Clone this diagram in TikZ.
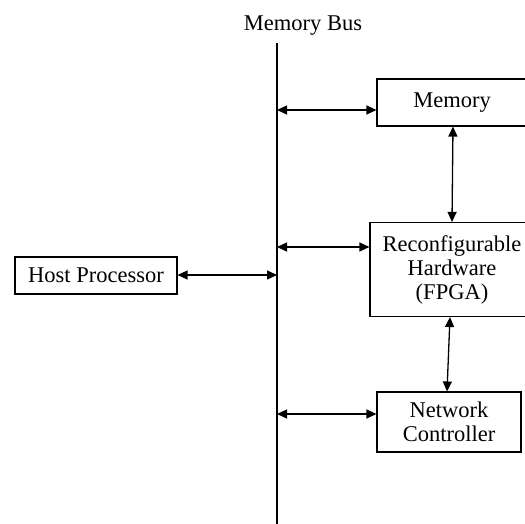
\documentclass[tikz,border=0pt]{standalone}
\usepackage{fontspec}
\setmainfont{Liberation Serif}
\usetikzlibrary{arrows.meta}
\tikzset{
  blk/.style={draw, line width=1.1pt, align=center, inner sep=0pt,
    font=\fontsize{22.5}{24}\selectfont},
  link/.style={line width=1.3pt, {Triangle[length=10pt,width=9pt]}-{Triangle[length=10pt,width=9pt]}},
  busline/.style={line width=1.5pt}
}
\begin{document}
\begin{tikzpicture}[x=1pt,y=-1pt]
\useasboundingbox (0,0) rectangle (525,524);
\clip (0,0) rectangle (525,524);
% bus label and the bus itself
\node[font=\fontsize{22.5}{24}\selectfont] (buslabel) at (303,26) {Memory Bus};
\coordinate (bustop) at (277,43);
\coordinate (busbot) at (277,530);
\draw[busline] (bustop) -- (busbot);
% blocks
\node[blk, minimum width=150pt, minimum height=47pt] (mem) at (452,102.5) {Memory};
\node[blk, minimum width=164pt, minimum height=94pt] (fpga) at (452,269.5) {Reconfigurable\\Hardware\\(FPGA)};
\node[blk, minimum width=162pt, minimum height=37pt] (host) at (96,275.5) {Host Processor};
\node[blk, minimum width=144pt, minimum height=60pt] (nic) at (449,422) {Network\\Controller};
% taps on the bus
\coordinate (tmem) at (277,110);
\coordinate (tfpga) at (277,247);
\coordinate (thost) at (277,275);
\coordinate (tnic) at (277,414);
% bus connections
\draw[link] (tmem) -- (tmem -| mem.west);
\draw[link] (tfpga) -- (tfpga -| fpga.west);
\draw[link] (host.east |- thost) -- (thost);
\draw[link] (tnic) -- (tnic -| nic.west);
% direct links
\draw[link] ([xshift=1pt]mem.south) -- (fpga.north);
\draw[link] ([xshift=-2pt]fpga.south) -- ([xshift=-2pt]nic.north);
\end{tikzpicture}
\end{document}
